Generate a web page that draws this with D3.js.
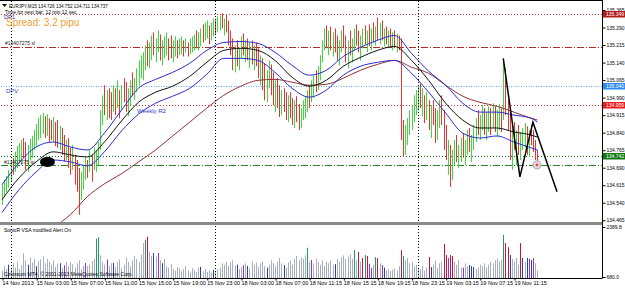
<!DOCTYPE html>
<html>
<head>
<meta charset="utf-8">
<script src="https://cdn.jsdelivr.net/npm/d3@7"></script>
<style>
  body { margin: 0; background: #fff; }
  svg { display: block; font-family: "Liberation Sans", Arial, sans-serif; }
</style>
</head>
<body>
<div id="chart"></div>
<script>
// EURJPY M15, one entry per bar. Prices are in points above 134.000 (1 point = 0.001)
const highs = [
  617,638,655,681,715,732,758,783,796,809, 817,800,787,813,826,851,877,902,915,924,
  911,919,902,894,907,885,894,868,860,830, 809,817,775,787,745,723,689,672,702,732,
  723,766,745,775,766,800,936,1000,1043,1022, 1030,1013,1043,1030,1064,1022,1043,1073,1056,1030,
  1064,1098,1073,1115,1149,1171,1184,1213,1235,1226, 1256,1269,1243,1277,1260,1235,1252,1269,1243,1256,
  1235,1252,1235,1243,1252,1235,1243,1226,1243,1252, 1260,1277,1269,1286,1303,1311,1320,1299,1311,1328,
  1320,1337,1341,1350,1328,1345,1320,1277,1243,1213, 1235,1201,1252,1264,1235,1243,1226,1235,1213,1226,
  1201,1171,1158,1137,1107,1149,1132,1098,1064,1073, 1043,1022,1030,1013,1000,1013,988,979,996,962,
  945,979,996,1022,1043,1064,1086,1107,1124,1171, 1235,1286,1299,1277,1294,1269,1286,1256,1235,1277,
  1299,1256,1235,1277,1243,1286,1303,1277,1256,1286, 1299,1277,1303,1286,1311,1294,1333,1311,1320,1286,
  1294,1277,1286,1269,1277,1264,1256,1243,894,873, 902,936,958,1000,1022,1043,1051,1030,1000,1013,
  979,958,979,945,936,979,1000,936,873,809, 787,766,809,830,787,817,838,809,851,860,
  830,873,902,936,915,958,945,928,953,945, 966,953,936,962,945,1149,1115,979,945,873,
  885,851,873,843,860,881,868,851,873,851, 809,766
];
const lows = [
  532,570,587,604,630,660,672,689,715,702, 732,681,672,723,732,766,783,809,817,834,
  817,826,800,809,800,783,775,766,745,715, 723,689,660,681,617,587,489,553,596,638,
  647,672,630,681,672,702,766,873,915,894, 902,894,928,915,945,902,936,970,928,911,
  958,996,979,1013,1043,1073,1064,1107,1124,1115, 1149,1171,1141,1184,1149,1128,1158,1171,1149,1158,
  1141,1166,1158,1171,1175,1166,1184,1166,1175,1184, 1192,1201,1192,1209,1226,1235,1243,1218,1235,1252,
  1260,1269,1277,1286,1256,1269,1213,1171,1107,1098, 1124,1107,1158,1171,1141,1149,1115,1132,1107,1124,
  1073,1043,1022,979,970,1030,1000,958,928,945, 907,915,928,894,885,902,873,860,885,851,
  860,894,902,928,945,970,988,1013,1022,1064, 1141,1192,1201,1171,1192,1166,1184,1149,1128,1184,
  1201,1141,1115,1171,1141,1192,1213,1184,1149,1201, 1218,1184,1209,1192,1226,1213,1235,1218,1235,1209,
  1218,1201,1209,1192,1201,1184,1192,809,736,745, 787,830,851,885,915,936,945,911,881,894,
  851,817,873,796,809,860,873,766,723,660, 608,638,702,715,689,715,732,702,745,758,
  715,766,800,830,809,851,830,809,843,830, 860,843,821,851,843,894,915,851,723,681,
  766,702,745,723,766,775,745,736,787,758, 723,702
];
const closes = [
  600,625,640,665,700,690,740,770,785,795, 760,720,770,800,815,845,870,895,905,915,
  890,905,860,840,880,830,800,820,770,740, 760,710,690,700,640,620,560,600,660,700,
  690,730,700,740,755,790,920,980,940,1000, 930,910,1030,950,1050,920,1020,990,950,1010,
  1050,1010,1060,1100,1140,1160,1175,1205,1150,1215, 1245,1200,1230,1260,1180,1220,1240,1255,1180,1170,
  1220,1240,1190,1230,1245,1200,1235,1180,1230,1245, 1255,1220,1260,1280,1240,1300,1310,1250,1300,1320,
  1270,1330,1335,1300,1320,1280,1230,1180,1120,1190, 1140,1185,1240,1200,1215,1165,1200,1150,1190,1140,
  1085,1150,1040,995,1080,1120,1020,975,1040,960, 930,1000,945,915,975,920,890,950,900,870,
  930,965,985,1010,960,1050,1075,1030,1110,1160, 1220,1270,1215,1255,1210,1245,1200,1170,1210,1255,
  1215,1160,1210,1190,1225,1260,1235,1200,1243,1270, 1235,1256,1226,1277,1243,1277,1252,1299,1243,1269,
  1226,1260,1218,1252,1209,1243,1213,851,760,860, 890,925,950,990,1015,1035,980,1020,900,1000,
  870,940,890,815,915,960,890,790,745,770, 640,750,790,730,770,805,750,790,835,780,
  810,860,890,850,900,940,850,905,930,915, 950,860,920,940,880,1107,945,936,745,851,
  787,830,766,817,843,860,766,830,809,775, 745,742
];
const firstOpen = 580;

// SonicR VSA volume, one per bar, and its colour class
// g normal, b low, p purple, G climax up, R climax down
const volumes = [
  900,1050,950,1100,980,1150,1000,1200,950,1080, 1500,1250,1100,1350,1180,1300,1050,1220,1280,1380,
  1150,1300,1200,1100,1250,1020,1150,1150,1000,1080, 1200,1050,1180,1120,1000,1150,1250,950,1060,1160,
  1050,1100,1230,1300,1990,2040,1420,1200,1100,1280, 1050,1150,1160,1020,1200,1280,980,1100,1350,1200,
  1050,1250,1400,1300,1200,1450,1840,1950,2060,1550, 1400,1500,1380,1500,1250,1150,1300,1050,1000,1120,
  950,900,1020,980,880,950,1050,900,860,980, 920,850,1000,1030,880,950,850,900,830,920,
  880,950,1000,1150,1100,1200,1050,1180,1250,1050, 1100,950,1020,1080,1150,1060,980,1200,1100,1180,
  1020,1150,1200,1050,1000,1100,1250,1150,1050,1200, 1330,1150,1090,1000,1180,1250,1100,1300,1400,1260,
  1350,1300,1420,1680,1200,1260,1150,1300,1200,1100, 1250,1050,1200,1150,1250,1100,1120,1300,1200,1350,
  1420,1300,1380,1450,1300,1600,1250,1540,1200,1330, 1430,1400,1130,990,1100,1360,1330,1150,1090,1000,
  900,950,880,930,980,900,1050,1600,1400,1250, 1330,1150,1200,1050,1100,1000,950,1050,900,1000,
  1360,1020,1100,1250,1000,1150,1200,1810,1430,1330, 1430,1400,1200,1100,1250,1000,1000,1150,1050,1090,
  1050,1020,950,1000,1100,1050,1150,1000,1100,1200, 1150,1250,1300,1200,1260,2120,1840,1700,1430,1300,
  1200,1330,1100,1840,1330,1200,1330,1300,1260,1330, 1150,900
];
const volumeKinds = (
  'gggbgggggg' + 'ggbgggbggg' + 'gggggggbgp' + 'gggggggggp' + 'ggggGGgggp' +
  'ggbggggggg' + 'gggggggGRg' + 'gbgpgbgggg' + 'gggggggggg' + 'gggbgggggb' +
  'gggggggggg' + 'bggpgbgggg' + 'ggggbggggg' + 'ggbggggggg' + 'gggGgpgggg' +
  'ggggggbggg' + 'gggggGgRgR' + 'GRppgGRgpb' + 'gggggggRGg' + 'gggggggggg' +
  'RbgggggRRp' + 'RRggggpggb' + 'bbgggggggg' + 'gggggGRRbg' + 'gggRbgbpbp' + 'gg'
).split('');

// moving averages read at every 8th bar (points above 134.000)
const maBars = [0,8,16,24,32,40,48,56,64,72,80,88,96,104,112,120,128,136,144,152,160,168,176,184,192,200,208,216,224,232,240,248,251];
const maUpper = [617,711,779,800,779,766,838,936,1030,1068,1098,1137,1192,1226,1230,1222,1184,1128,1086,1107,1166,1205,1235,1256,1179,1103,1043,966,928,928,915,902,885];
const maMiddle = [553,647,715,758,745,736,800,890,970,1013,1039,1081,1141,1192,1201,1192,1149,1077,1039,1064,1124,1162,1192,1209,1149,1064,966,894,860,860,843,830,821];
const maLower = [498,596,672,723,715,698,758,847,919,966,996,1030,1090,1158,1158,1149,1098,1030,992,1022,1086,1124,1141,1149,1094,1013,924,838,817,826,800,775,766];
const slowBars = [24,32,40,48,56,64,72,80,88,96,104,112,120,128,136,144,152,160,168,176,184,192,200,208,216,224,232,240,248,251];
const maSlow = [434,489,566,621,664,715,766,826,885,945,1000,1039,1064,1068,1056,1043,1047,1073,1107,1132,1149,1120,1094,1043,996,970,953,928,902,894];

// horizontal levels
const levelNames = ['DR1', 'sl', 'DPV', 'Weekly R2', 'bid', 'tp'];
const levelValues = [135.349, 135.205, 135.040, 134.959, 134.742, 134.702];
const tagValues = [135.349, 135.040, 134.959, 134.742];

// hand drawn zigzag (bar index, price)
const zigBars = [235, 242.8, 248.9, 260.2];
const zigPrices = [135.158, 134.651, 134.885, 134.587];

const priceTicks = [134.465,134.540,134.615,134.690,134.765,134.840,134.915,134.990,135.065,135.140,135.215,135.290,135.365];
const timeTickBars = [0,16,32,48,64,80,96,112,128,144,160,176,192,208,224,240];
const timeLabels = ['14 Nov 2013','15 Nov 03:00','15 Nov 07:00','15 Nov 11:00','15 Nov 15:00','15 Nov 19:00',
  '15 Nov 23:00','18 Nov 03:00','18 Nov 07:00','18 Nov 11:15','18 Nov 15:15','18 Nov 19:15',
  '18 Nov 23:15','19 Nov 03:15','19 Nov 07:15','19 Nov 11:15'];
const dayBreaks = [4, 100, 195];
const volumeMin = 680.0, volumeMax = 2389.8;

const W = 625, H = 289;
const axisX = 602;
const pane = { top: 1, bottom: 222 };
const vpane = { top: 225, bottom: 278 };
const px = v => 134 + v / 1000;

const svg = d3.select('#chart').append('svg').attr('width', W).attr('height', H);

const x = d3.scaleLinear().domain([0, 281]).range([2, 601.4]);
const y = d3.scaleLinear().domain([134.465, 135.290]).range([220.3, 27.5]);
const yv = d3.scaleLinear().domain([volumeMin, volumeMax]).range([277, 227]);
const cx = i => Math.round(x(i)) + 0.5;

svg.append('clipPath').attr('id', 'clipMain').append('rect')
  .attr('x', 1).attr('y', pane.top).attr('width', axisX - 1).attr('height', pane.bottom - pane.top);
svg.append('clipPath').attr('id', 'clipVol').append('rect')
  .attr('x', 1).attr('y', vpane.top).attr('width', axisX - 1).attr('height', vpane.bottom - vpane.top);

const main = svg.append('g').attr('clip-path', 'url(#clipMain)');
const vol = svg.append('g').attr('clip-path', 'url(#clipVol)');

// day separators across both panes
svg.append('g').selectAll('line').data(dayBreaks).join('line')
  .attr('x1', d => cx(d)).attr('x2', d => cx(d))
  .attr('y1', pane.top).attr('y2', vpane.bottom)
  .attr('stroke', '#000').attr('stroke-dasharray', '1,2');

// levels
const levelStyle = {
  'DR1': { c: '#e03a3a', d: '1,2' },
  'sl': { c: '#b02a2a', d: '7,2,1,2' },
  'DPV': { c: '#6aa6ee', d: '1,1.5' },
  'Weekly R2': { c: '#e03a3a', d: '1,2' },
  'bid': { c: '#1d6e1d', d: '1,2' },
  'tp': { c: '#2f7f2f', d: '7,2,1,2' }
};
main.selectAll('line.level').data(levelNames).join('line')
  .attr('class', 'level')
  .attr('x1', 1).attr('x2', axisX)
  .attr('y1', (d, k) => Math.round(y(levelValues[k])) + 0.5)
  .attr('y2', (d, k) => Math.round(y(levelValues[k])) + 0.5)
  .attr('stroke', d => levelStyle[d].c)
  .attr('stroke-dasharray', d => levelStyle[d].d);

// price bars
const bars = highs.map((h, i) => ({
  i, h: px(h), l: px(lows[i]), c: px(closes[i]), o: px(i ? closes[i - 1] : firstOpen)
}));
main.selectAll('line.bar').data(bars).join('line')
  .attr('class', 'bar')
  .attr('x1', d => cx(d.i)).attr('x2', d => cx(d.i))
  .attr('y1', d => y(d.h)).attr('y2', d => y(d.l))
  .attr('stroke', d => d.c >= d.o ? '#3fd83f' : '#e43434')
  .attr('stroke-width', 1);

// moving averages
const maLine = d3.line().x(d => x(d[0])).y(d => y(px(d[1]))).curve(d3.curveMonotoneX);
const series = [
  { bars: slowBars, vals: maSlow, c: '#953030' },
  { bars: maBars, vals: maUpper, c: '#2b2bd0' },
  { bars: maBars, vals: maLower, c: '#2b2bd0' },
  { bars: maBars, vals: maMiddle, c: '#111' }
];
main.selectAll('path.ma').data(series).join('path')
  .attr('class', 'ma')
  .attr('d', s => maLine(s.bars.map((b, k) => [b, s.vals[k]])))
  .attr('fill', 'none').attr('stroke', s => s.c).attr('stroke-width', 1);

// zigzag
main.append('path')
  .attr('d', d3.line()(zigBars.map((b, k) => [x(b), y(zigPrices[k])])))
  .attr('fill', 'none').attr('stroke', '#000').attr('stroke-width', 1.5);

// tp marker and object blob
main.append('circle').attr('cx', x(250.8)).attr('cy', y(134.702)).attr('r', 3.8)
  .attr('fill', '#f2dede').attr('stroke', '#b8b8b8').attr('stroke-width', 1.5);
main.append('path')
  .attr('d', `M${x(250.8) - 1.5},${y(134.702)}h3M${x(250.8)},${y(134.702) - 1.5}v3`)
  .attr('stroke', '#d02020').attr('stroke-width', 1);

// chart texts
const txt = (g, t, tx, ty, size, fill) => g.append('text').attr('x', tx).attr('y', ty)
  .attr('font-size', size).attr('fill', fill).text(t);
txt(main, '#13407275 sl', 5, y(135.205) - 2, 5, '#222');
txt(main, 'DPV', 6, y(135.040) + 7, 6, '#3447c8');
txt(main, 'Weekly R2', 137, y(134.959) + 8, 6, '#3434c0');
txt(main, '#13407275 tp', 4, y(134.702) - 1, 5, '#222');
main.append('ellipse').attr('cx', x(21.3)).attr('cy', y(134.715)).attr('rx', 7.5).attr('ry', 5).attr('fill', '#000');
txt(svg, 'DR1', 4, 18.5, 5.5, '#303090');
txt(svg, 'Spread: 3.2 pipu', 6, 26, 10, '#f0a030');
svg.append('path').attr('d', 'M2,4h5l-2.5,3z').attr('fill', '#000');
txt(svg, 'EURJPY,M15  134.726 134.752 134.711 134.737', 9, 7.5, 4.6, '#000');
txt(svg, 'Time for next bar: 12 min 12 sec', 5, 14, 5, '#000');

// volume bars
const volColor = { g: '#a7afbf', b: '#2b3f9e', p: '#9430e0', G: '#1f9e6a', R: '#d0103c' };
vol.selectAll('line.vb').data(volumes).join('line')
  .attr('class', 'vb')
  .attr('x1', (d, i) => cx(i)).attr('x2', (d, i) => cx(i))
  .attr('y1', vpane.bottom).attr('y2', d => yv(d))
  .attr('stroke', (d, i) => volColor[volumeKinds[i]]);
txt(svg, 'SonicR VSA modified   Alert On', 4, 232, 5, '#000');
txt(svg, 'Colossum MT4, \u00a9 2001-2013 MetaQuotes Software Corp.', 4, 275.5, 5, '#000');

// frame and separator
svg.append('rect').attr('x', 0).attr('y', pane.bottom).attr('width', axisX + 1).attr('height', 3).attr('fill', '#8a8a8a');
svg.append('line').attr('x1', 0).attr('x2', axisX).attr('y1', 0.5).attr('y2', 0.5).attr('stroke', '#000');
svg.append('line').attr('x1', 0).attr('x2', axisX).attr('y1', vpane.bottom + 0.5).attr('y2', vpane.bottom + 0.5).attr('stroke', '#000');
svg.append('line').attr('x1', axisX + 0.5).attr('x2', axisX + 0.5).attr('y1', 0).attr('y2', vpane.bottom + 0.5).attr('stroke', '#000');

// price axis
const yAxis = svg.append('g').attr('transform', `translate(${axisX + 0.5},0)`)
  .call(d3.axisRight(y).tickValues(priceTicks).tickSize(3).tickPadding(1).tickFormat(d3.format('.3f')));
yAxis.select('.domain').remove();
yAxis.selectAll('text').attr('font-size', 5).attr('font-family', '"Liberation Sans", Arial, sans-serif');

// price tags
const tagFill = ['#b01c1c', '#2d8cf0', '#ee1c1c', '#0f7a0f'];
const tags = svg.append('g').selectAll('g').data(tagValues).join('g')
  .attr('transform', d => `translate(${axisX + 1},${Math.round(y(d))})`);
tags.append('rect').attr('x', 0).attr('y', -3).attr('width', 22).attr('height', 6.5)
  .attr('fill', (d, k) => tagFill[k]);
tags.append('text').attr('x', 3).attr('y', 2).attr('font-size', 5).attr('fill', '#fff')
  .text(d => d3.format('.3f')(d));

// volume axis labels
const vAxis = svg.append('g').attr('transform', `translate(${axisX + 0.5},0)`)
  .call(d3.axisRight(yv).tickValues([volumeMax, volumeMin]).tickSize(3).tickPadding(1).tickFormat(d3.format('.1f')));
vAxis.select('.domain').remove();
vAxis.selectAll('text').attr('font-size', 5).attr('font-family', '"Liberation Sans", Arial, sans-serif');

// time axis
const xAxis = svg.append('g').attr('transform', `translate(0,${vpane.bottom + 0.5})`)
  .call(d3.axisBottom(x).tickValues(timeTickBars).tickSize(2).tickFormat((d, k) => timeLabels[k]));
xAxis.select('.domain').remove();
xAxis.selectAll('.tick line').attr('transform', 'translate(0.5,0)');
xAxis.selectAll('text').attr('font-size', 5.5).attr('text-anchor', 'start').attr('x', 0).attr('y', 3)
  .attr('font-family', '"Liberation Sans", Arial, sans-serif');
</script>
</body>
</html>
